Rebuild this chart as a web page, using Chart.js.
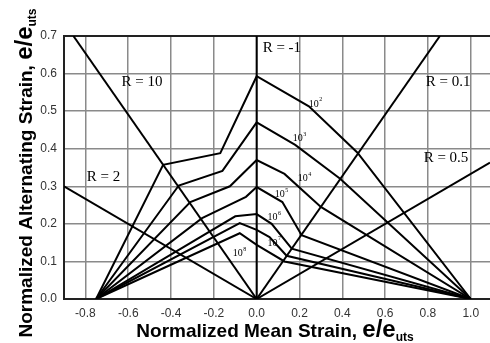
<!DOCTYPE html>
<html>
<head>
<meta charset="utf-8">
<script src="https://cdn.jsdelivr.net/npm/chart.js@4"></script>
<style>
  html, body { margin: 0; padding: 0; background: #fff; }
  #contenedor { width: 490px; height: 343px; }
</style>
</head>
<body>
<div id="contenedor"><canvas id="graficoDeformacion"></canvas></div>
<script>
// Ticks de los ejes
const ticksX = [-0.8, -0.6, -0.4, -0.2, 0.0, 0.2, 0.4, 0.6, 0.8, 1.0];
const ticksY = [0.0, 0.1, 0.2, 0.3, 0.4, 0.5, 0.6, 0.7];

// Lineas de R constante (deformacion media, alternante)
const lineaR10X = [0, -0.856];  const lineaR10Y = [0, 0.7];
const lineaR2X  = [0, -0.9];    const lineaR2Y  = [0, 0.3];
const lineaRm1X = [0, 0];       const lineaRm1Y = [0, 0.7];
const lineaR01X = [0, 0.856];   const lineaR01Y = [0, 0.7];
const lineaR05X = [0, 1.09];    const lineaR05Y = [0, 0.363];

// Curvas de vida constante
const vida2X = [-0.75, -0.437, -0.17, 0, 0.244, 0.47, 1.0];
const vida2Y = [0, 0.357, 0.388, 0.593, 0.513, 0.39, 0];
const vida3X = [-0.75, -0.364, -0.16, 0, 0.18, 0.39, 1.0];
const vida3Y = [0, 0.302, 0.341, 0.47, 0.41, 0.32, 0];
const vida4X = [-0.75, -0.31, -0.125, 0, 0.13, 0.30, 1.0];
const vida4Y = [0, 0.258, 0.30, 0.37, 0.333, 0.245, 0];
const vida5X = [-0.75, -0.255, -0.05, 0, 0.12, 0.21, 1.0];
const vida5Y = [0, 0.215, 0.272, 0.298, 0.258, 0.17, 0];
const vida6X = [-0.75, -0.10, 0, 0.07, 0.164, 1.0];
const vida6Y = [0, 0.22, 0.226, 0.20, 0.134, 0];
const vida7X = [-0.75, -0.079, 0, 0.06, 0.14, 1.0];
const vida7Y = [0, 0.202, 0.184, 0.165, 0.115, 0];
const vida8X = [-0.75, -0.079, 0, 0.13, 1.0];
const vida8Y = [0, 0.175, 0.144, 0.10, 0];

// Etiquetas de R
const etiquetasR  = ['R = 10', 'R = 2', 'R = -1', 'R = 0.1', 'R = 0.5'];
const etiquetasRX = [-0.631, -0.794, 0.028, 0.79, 0.78];
const etiquetasRY = [0.578, 0.325, 0.668, 0.578, 0.376];

// Etiquetas de ciclos (10^n)
const ciclosExp = ['2', '3', '4', '5', '6', '7', '8'];
const ciclosX = [0.243, 0.168, 0.192, 0.084, 0.051, 0.051, -0.112];
const ciclosY = [0.522, 0.429, 0.323, 0.280, 0.219, 0.152, 0.123];

function puntos(xs, ys) {
	return xs.map((x, i) => ({ x: x, y: ys[i] }));
}

const series = [
	[lineaR10X, lineaR10Y], [lineaR2X, lineaR2Y], [lineaRm1X, lineaRm1Y],
	[lineaR01X, lineaR01Y], [lineaR05X, lineaR05Y],
	[vida2X, vida2Y], [vida3X, vida3Y], [vida4X, vida4Y], [vida5X, vida5Y],
	[vida6X, vida6Y], [vida7X, vida7Y], [vida8X, vida8Y]
];

const datasets = series.map(s => ({
	data: puntos(s[0], s[1]),
	showLine: true,
	borderColor: '#000',
	borderWidth: 2,
	pointRadius: 0,
	tension: 0
}));

// Textos: etiquetas y titulos de ejes
const textos = {
	id: 'textos',
	afterDraw(chart) {
		const ctx = chart.ctx;
		const sx = chart.scales.x, sy = chart.scales.y;
		ctx.save();
		ctx.fillStyle = '#000';
		ctx.textBaseline = 'middle';
		ctx.textAlign = 'left';
		ctx.font = '15px "Liberation Serif"';
		etiquetasR.forEach((t, i) => {
			ctx.fillText(t, sx.getPixelForValue(etiquetasRX[i]), sy.getPixelForValue(etiquetasRY[i]));
		});
		ciclosExp.forEach((e, i) => {
			const px = sx.getPixelForValue(ciclosX[i]);
			const py = sy.getPixelForValue(ciclosY[i]);
			ctx.font = '10px "Liberation Serif"';
			ctx.fillText('10', px, py + 1);
			const w = ctx.measureText('10').width;
			ctx.font = '6px "Liberation Serif"';
			ctx.fillText(e, px + w + 0.5, py - 3);
		});

		// titulo eje x
		const partes = [
			['Normalized Mean Strain, ', 'bold 19px "Liberation Sans"', 0],
			['e/e', 'bold 24px "Liberation Sans"', 0],
			['uts', 'bold 12px "Liberation Sans"', 4]
		];
		ctx.textBaseline = 'alphabetic';
		let total = 0;
		partes.forEach(p => { ctx.font = p[1]; total += ctx.measureText(p[0]).width; });
		let x0 = 275 - total / 2;
		partes.forEach(p => {
			ctx.font = p[1];
			ctx.fillText(p[0], x0, 337 + p[2]);
			x0 += ctx.measureText(p[0]).width;
		});

		// titulo eje y
		const partesY = [
			['Normalized Alternating Strain, ', 'bold 19px "Liberation Sans"', 0],
			['e/e', 'bold 24px "Liberation Sans"', 0],
			['uts', 'bold 12px "Liberation Sans"', 4]
		];
		total = 0;
		partesY.forEach(p => { ctx.font = p[1]; total += ctx.measureText(p[0]).width; });
		ctx.translate(32, 173);
		ctx.rotate(-Math.PI / 2);
		let y0 = -total / 2;
		partesY.forEach(p => {
			ctx.font = p[1];
			ctx.fillText(p[0], y0, p[2]);
			y0 += ctx.measureText(p[0]).width;
		});
		ctx.restore();
	}
};

new Chart(document.getElementById('graficoDeformacion'), {
	type: 'scatter',
	data: { datasets: datasets },
	options: {
		responsive: true,
		maintainAspectRatio: false,
		animation: false,
		layout: { padding: { top: 36, right: 0, left: 0, bottom: 0 } },
		plugins: {
			legend: { display: false },
			tooltip: { enabled: false }
		},
		scales: {
			x: {
				type: 'linear',
				min: -0.9,
				max: 1.09,
				afterBuildTicks: s => { s.ticks = ticksX.map(v => ({ value: v })); },
				afterFit: s => { s.height = 44; },
				grid: { color: '#8a8a8a', lineWidth: 1.5, drawTicks: false },
				border: { color: '#222', width: 2 },
				ticks: {
					color: '#333',
					padding: 7,
					font: { family: 'Liberation Sans', size: 12 },
					callback: v => v.toFixed(1)
				}
			},
			y: {
				type: 'linear',
				min: 0,
				max: 0.7,
				afterBuildTicks: s => { s.ticks = ticksY.map(v => ({ value: v })); },
				afterFit: s => { s.width = 64; },
				grid: {
					color: c => (c.tick && c.tick.value === 0.7) ? '#222' : '#8a8a8a',
					lineWidth: c => (c.tick && c.tick.value === 0.7) ? 2 : 1.5,
					drawTicks: false
				},
				border: { color: '#222', width: 2 },
				ticks: {
					color: '#333',
					padding: 7,
					font: { family: 'Liberation Sans', size: 12 },
					callback: v => v.toFixed(1)
				}
			}
		}
	},
	plugins: [textos]
});
</script>
</body>
</html>
